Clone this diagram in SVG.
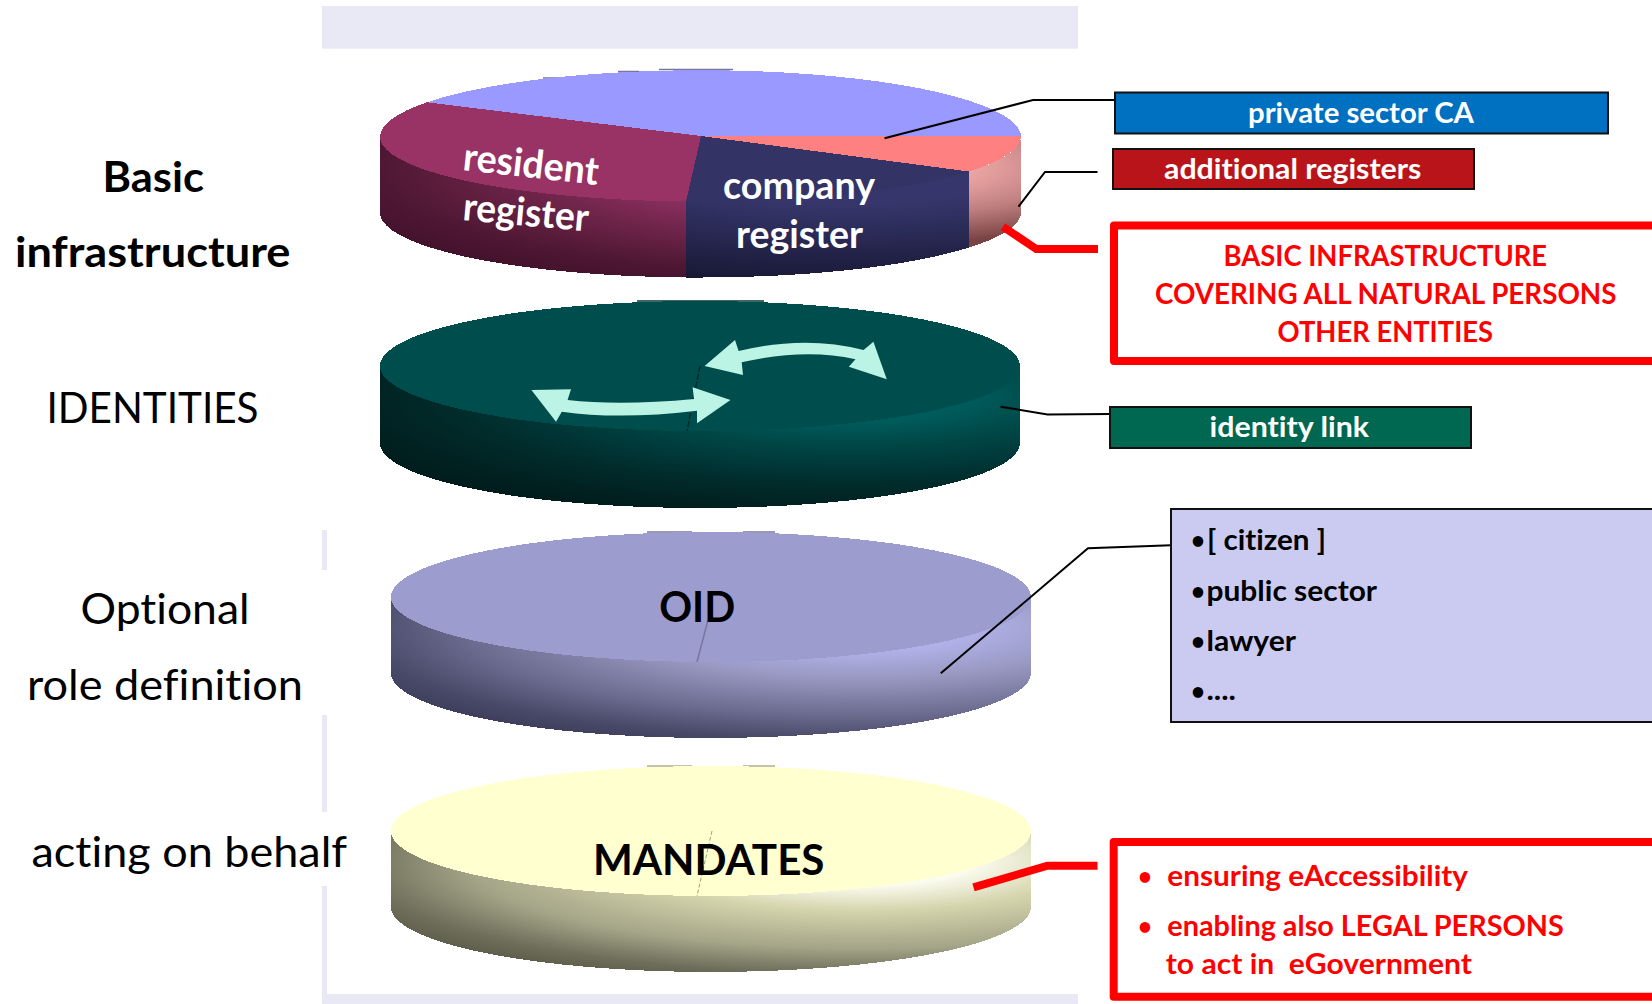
<svg xmlns="http://www.w3.org/2000/svg" width="1652" height="1004" viewBox="0 0 1652 1004">
<style>
text{font-family:"Lato","Carlito","Open Sans",sans-serif;font-variant-ligatures:none}
.b{font-weight:700}
.big{font-size:42px;fill:#000}
.dl{font-size:39px;fill:#fff;font-weight:700}
.lb{font-size:28px;font-weight:700}
.blt{font-size:24px;font-weight:700}
.w{fill:#fff}
.r{fill:#f00}
.k{fill:#000}
.band{fill:#e9e9f5}
.box{stroke:#111;stroke-width:2}
.rbox{fill:#fff;stroke:#f00;stroke-width:8;stroke-linejoin:round}
.thin{fill:none;stroke:#000;stroke-width:2}
.thick{fill:none;stroke:#f00;stroke-width:8}
.arw{fill:#bbf3e5}
.cr{shape-rendering:crispEdges}
</style>
<defs>
<radialGradient id="gRes" gradientUnits="userSpaceOnUse" cx="0" cy="0" r="1" gradientTransform="translate(850 167) scale(560 125)"><stop offset=".4" stop-color="#8a2f60"/><stop offset=".6" stop-color="#6e2449"/><stop offset=".85" stop-color="#4e1733"/><stop offset="1" stop-color="#42122c"/></radialGradient>
<radialGradient id="gCom" gradientUnits="userSpaceOnUse" cx="0" cy="0" r="1" gradientTransform="translate(850 167) scale(560 125)"><stop offset=".3" stop-color="#36366c"/><stop offset=".55" stop-color="#2a2a56"/><stop offset=".8" stop-color="#1e1e40"/><stop offset="1" stop-color="#161630"/></radialGradient>
<radialGradient id="gPnk" gradientUnits="userSpaceOnUse" cx="0" cy="0" r="1" gradientTransform="translate(850 167) scale(560 125)"><stop offset=".2" stop-color="#f0a8a8"/><stop offset=".4" stop-color="#c08080"/><stop offset=".62" stop-color="#7a4444"/></radialGradient>
<radialGradient id="gTeal" gradientUnits="userSpaceOnUse" cx="0" cy="0" r="1" gradientTransform="translate(850 396) scale(560 125)"><stop offset=".2" stop-color="#005c5c"/><stop offset=".4" stop-color="#004646"/><stop offset=".7" stop-color="#012c2c"/><stop offset=".9" stop-color="#012020"/><stop offset="1" stop-color="#001c1c"/></radialGradient>
<radialGradient id="gPur" gradientUnits="userSpaceOnUse" cx="0" cy="0" r="1" gradientTransform="translate(861 627) scale(560 125)"><stop offset=".2" stop-color="#b0b0e8"/><stop offset=".4" stop-color="#9a9ac4"/><stop offset=".7" stop-color="#6c6c90"/><stop offset=".9" stop-color="#484868"/><stop offset="1" stop-color="#3e3e5c"/></radialGradient>
<radialGradient id="gYel" gradientUnits="userSpaceOnUse" cx="0" cy="0" r="1" gradientTransform="translate(861 861) scale(560 125)"><stop offset=".2" stop-color="#fbfbf0"/><stop offset=".4" stop-color="#d4d4ac"/><stop offset=".7" stop-color="#a4a488"/><stop offset=".9" stop-color="#6e6e5a"/><stop offset="1" stop-color="#5e5e4c"/></radialGradient>
</defs>
<rect width="1652" height="1004" fill="#fff"/>
<g id="frame">
<rect class="band" x="322" y="6" width="756" height="42.7"/>
<rect class="band" x="322" y="530" width="5" height="40"/>
<rect class="band" x="322" y="715" width="5" height="97"/>
<rect class="band" x="322" y="886" width="5" height="118"/>
<rect class="band" x="322" y="994" width="756" height="10"/>
</g>
<g id="disk-basic">
<path d="M543 78H561M618 71.500H639M659 69.500H733" stroke="#77779a" stroke-width="1.500"/>
<path class="cr" fill="url(#gRes)" d="M380 137A320.500 65 0 0 0 686 201.500V277.500A320.500 65 0 0 1 380 213Z"/>
<path class="cr" fill="url(#gCom)" d="M686 201.500A320.500 65 0 0 0 969 171.500V247.500A320.500 65 0 0 1 686 277.500Z"/>
<path class="cr" fill="url(#gPnk)" d="M969 171.500A320.500 65 0 0 0 1021 137V213A320.500 65 0 0 1 969 247.500Z"/>
<path class="cr" fill="#9999ff" d="M701 136L427 102.300A320.500 67 0 0 1 1021 136Z"/>
<path class="cr" fill="#ff8080" d="M701 136L969 171.500A320.500 65 0 0 0 1021 136Z"/>
<path class="cr" fill="#993366" d="M701 136L427 102.300A320.500 67 0 0 0 380 137A320.500 65 0 0 0 686 201.500Z"/>
<path class="cr" fill="#333366" d="M701 136L686 201.500A320.500 65 0 0 0 969 171.500Z"/>
<text class="dl" transform="translate(462 170) rotate(6.300)" textLength="136" lengthAdjust="spacingAndGlyphs">resident</text>
<text class="dl" transform="translate(462 220) rotate(5.200)" textLength="126" lengthAdjust="spacingAndGlyphs">register</text>
<text class="dl" x="723" y="199" textLength="152" lengthAdjust="spacingAndGlyphs">company</text>
<text class="dl" x="736" y="248" textLength="127" lengthAdjust="spacingAndGlyphs">register</text>
</g>
<g id="disk-identities">
<path d="M637 301H764" stroke="#003333" stroke-width="1.500"/>
<path class="cr" fill="url(#gTeal)" d="M380 366A320 65 0 0 0 1020 366V443A320 65 0 0 1 380 443Z"/>
<ellipse class="cr" cx="700" cy="366" rx="320" ry="65" fill="#004d4d"/>
<path d="M700 366L687 431" stroke="#002a2a" stroke-width="1.500" stroke-dasharray="6 2"/>
<path class="arw" d="M531.400 390L571 389.300L567.600 400Q620 406 694 399L692.600 387.300L730.500 400L697 423.300L697 410.700Q620 420 561.800 411.700L556 421.700Z"/>
<path class="arw" d="M704.600 366L735 340L738.600 351Q805 335 863.600 350L873.400 341.700L886.800 379.300L848.800 366.700L855.500 359.300Q805 348 741.700 362.300L743 375Z"/>
</g>
<g id="disk-roles">
<path d="M647 532H692M743 532H775" stroke="#77779a" stroke-width="1.500"/>
<path class="cr" fill="url(#gPur)" d="M391 597A320 65 0 0 0 1031 597V673A320 65 0 0 1 391 673Z"/>
<ellipse class="cr" cx="711" cy="597" rx="320" ry="65" fill="#9c9ccf"/>
<path d="M708 620L697 662" stroke="#77779f" stroke-width="1.500"/>
<text class="big b" x="659.200" y="621.700" textLength="76" lengthAdjust="spacingAndGlyphs">OID</text>
</g>
<g id="disk-mandates">
<path d="M647 766H692M743 766H775" stroke="#b0b090" stroke-width="1.500"/>
<path class="cr" fill="url(#gYel)" d="M391 831A320 65 0 0 0 1031 831V907A320 65 0 0 1 391 907Z"/>
<ellipse class="cr" cx="711" cy="831" rx="320" ry="65" fill="#ffffd0"/>
<path d="M712 831L697 896" stroke="#a0a080" stroke-width="1" stroke-dasharray="4 2"/>
<text class="big b" x="592.900" y="875" textLength="231.600" lengthAdjust="spacingAndGlyphs">MANDATES</text>
</g>
<g id="connectors">
<path class="thin" d="M884.500 138.300L1033 100H1115"/>
<path class="thin" d="M1018.500 206.700L1045 172H1097.500"/>
<path class="thick" d="M1003 226.700L1036.300 249H1098"/>
<path class="thin" d="M1000.600 406.700L1047.500 414.500L1110 414"/>
<path class="thin" d="M940.800 673.300L1088 548.300L1171 545.300"/>
<path class="thick" d="M973.500 887.300L1047.500 865.700H1097.500"/>
</g>
<g id="label-basic"><text class="big b" x="102.500" y="191.700" textLength="101.500" lengthAdjust="spacingAndGlyphs">Basic</text><text class="big b" x="15" y="267.300" textLength="275.500" lengthAdjust="spacingAndGlyphs">infrastructure</text></g>
<g id="label-identities"><text class="big" x="46.500" y="423.300" textLength="212" lengthAdjust="spacingAndGlyphs">IDENTITIES</text></g>
<g id="label-optional"><text class="big" x="80.500" y="624" textLength="169" lengthAdjust="spacingAndGlyphs">Optional</text><text class="big" x="27" y="700" textLength="276" lengthAdjust="spacingAndGlyphs">role definition</text></g>
<g id="label-acting"><text class="big" x="31.500" y="866.700" textLength="315.500" lengthAdjust="spacingAndGlyphs">acting on behalf</text></g>
<g id="box-private"><rect class="box" x="1115" y="92.500" width="493" height="41" fill="#0070c0"/><text class="lb w" x="1248" y="123" textLength="226" lengthAdjust="spacingAndGlyphs">private sector CA</text></g>
<g id="box-additional"><rect class="box" x="1113" y="149" width="361" height="40" fill="#b91419"/><text class="lb w" x="1164" y="178.800" textLength="257.400" lengthAdjust="spacingAndGlyphs">additional registers</text></g>
<g id="box-basic-note"><rect class="rbox" x="1114" y="225.500" width="560" height="135.500"/>
<text class="lb r" x="1223.600" y="265.800" textLength="323.500" lengthAdjust="spacingAndGlyphs">BASIC INFRASTRUCTURE</text>
<text class="lb r" x="1155" y="303.800" textLength="461.500" lengthAdjust="spacingAndGlyphs">COVERING ALL NATURAL PERSONS</text>
<text class="lb r" x="1277.500" y="341.800" textLength="215.500" lengthAdjust="spacingAndGlyphs">OTHER ENTITIES</text></g>
<g id="box-identity"><rect class="box" x="1110" y="407" width="361" height="41" fill="#006750"/><text class="lb w" x="1209.600" y="437.300" textLength="159.400" lengthAdjust="spacingAndGlyphs">identity link</text></g>
<g id="box-roles"><rect class="box" x="1171" y="509" width="500" height="213" fill="#cbcbf1"/>
<text class="blt k" x="1191" y="549">•</text><text class="lb k" x="1207" y="550" textLength="119" lengthAdjust="spacingAndGlyphs">[ citizen ]</text>
<text class="blt k" x="1191" y="600">•</text><text class="lb k" x="1206.500" y="600.700" textLength="170.500" lengthAdjust="spacingAndGlyphs">public sector</text>
<text class="blt k" x="1191" y="650">•</text><text class="lb k" x="1206.500" y="650.700" textLength="89.500" lengthAdjust="spacingAndGlyphs">lawyer</text>
<text class="blt k" x="1191" y="700">•</text><text class="lb k" x="1206.500" y="700" textLength="29.500" lengthAdjust="spacingAndGlyphs">....</text></g>
<g id="box-mandates-note"><rect class="rbox" x="1113.700" y="842" width="560" height="154.700"/>
<text class="blt r" x="1138" y="885">•</text>
<text class="lb r" x="1167.300" y="886" textLength="300.700" lengthAdjust="spacingAndGlyphs">ensuring eAccessibility</text>
<text class="blt r" x="1138" y="935">•</text>
<text class="lb r" x="1167.300" y="936" textLength="396.500" lengthAdjust="spacingAndGlyphs">enabling also LEGAL PERSONS</text>
<text class="lb r" x="1165.800" y="974" textLength="306.200" lengthAdjust="spacingAndGlyphs" xml:space="preserve">to act in  eGovernment</text></g>
</svg>
